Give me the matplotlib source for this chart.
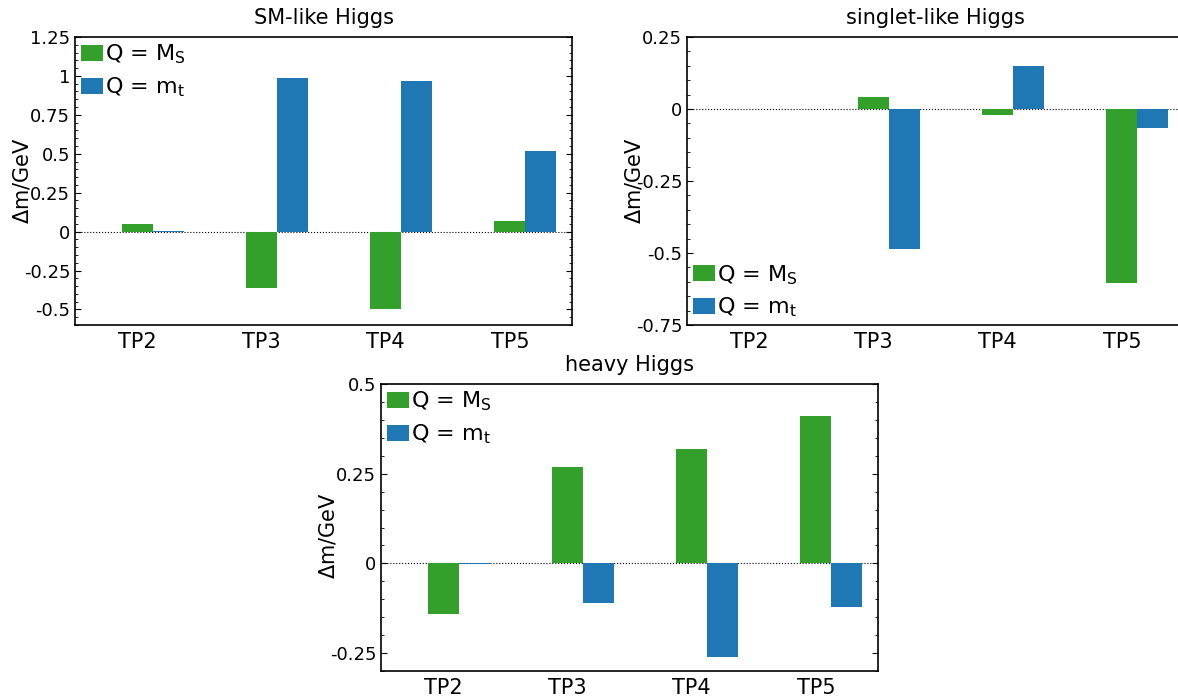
import numpy as np
import matplotlib
matplotlib.use("Agg")
import matplotlib.pyplot as plt
from matplotlib.ticker import MultipleLocator, AutoMinorLocator, FuncFormatter

plt.rcParams['axes.unicode_minus'] = False
plt.rcParams['mathtext.default'] = 'regular'
plt.rcParams['font.size'] = 13
plt.rcParams['axes.linewidth'] = 1.2

points = ["TP2", "TP3", "TP4", "TP5"]

sm_ms = [0.05, -0.365, -0.495, 0.07]
sm_mt = [0.005, 0.985, 0.965, 0.52]

singlet_ms = [0.001, 0.04, -0.022, -0.605]
singlet_mt = [0.001, -0.485, 0.15, -0.065]

heavy_ms = [-0.142, 0.27, 0.32, 0.41]
heavy_mt = [-0.002, -0.111, -0.262, -0.122]

green = '#33a02c'
blue = '#1f78b4'


def draw_panel(ax, ms, mt, title, ylim, legend_loc, label_y=0.5):
    x = np.arange(len(points))
    w = 0.25
    ax.axhline(0, color='k', ls=':', lw=0.8, zorder=1)
    ax.bar(x, ms, w, color=green, label=r'Q = M$_S$', zorder=2)
    ax.bar(x + w, mt, w, color=blue, label=r'Q = m$_t$', zorder=2)
    ax.set_xlim(-0.5, 3.5)
    ax.set_ylim(*ylim)
    ax.set_xticks(x)
    ax.set_xticklabels(points, fontsize=15)
    ax.tick_params(axis='x', length=0, pad=5)
    ax.yaxis.set_major_locator(MultipleLocator(0.25))
    ax.yaxis.set_minor_locator(AutoMinorLocator(5))
    ax.yaxis.set_major_formatter(FuncFormatter(lambda v, p: '%g' % round(v, 4)))
    ax.tick_params(axis='y', which='both', direction='in', left=True, right=True)
    ax.tick_params(axis='y', which='major', length=4)
    ax.tick_params(axis='y', which='minor', length=2)
    ax.set_ylabel(r'$\Delta$m/GeV', fontsize=15)
    ax.yaxis.set_label_coords(-0.085, label_y)
    ax.set_title(title, fontsize=15, pad=9)
    ax.legend(loc=legend_loc, frameon=False, fontsize=16, handlelength=1.0,
              handleheight=0.75, handletextpad=0.1, borderaxespad=0.1,
              borderpad=0.15, labelspacing=0.42)


fig = plt.figure(figsize=(11.78, 6.98), dpi=100)
W, H = 1178.0, 698.0


def axes_px(l, r, t, b):
    return fig.add_axes([l / W, 1 - b / H, (r - l) / W, (b - t) / H])


ax1 = axes_px(75, 572, 37, 325)
ax2 = axes_px(687, 1184, 37, 325)
ax3 = axes_px(381, 878, 384, 671)

draw_panel(ax1, sm_ms, sm_mt, "SM-like Higgs", (-0.6, 1.25), 'upper left')
draw_panel(ax2, singlet_ms, singlet_mt, "singlet-like Higgs", (-0.75, 0.25), 'lower left')
draw_panel(ax3, heavy_ms, heavy_mt, "heavy Higgs", (-0.3, 0.5), 'upper left', 0.47)

fig.savefig("out.png", dpi=100)
